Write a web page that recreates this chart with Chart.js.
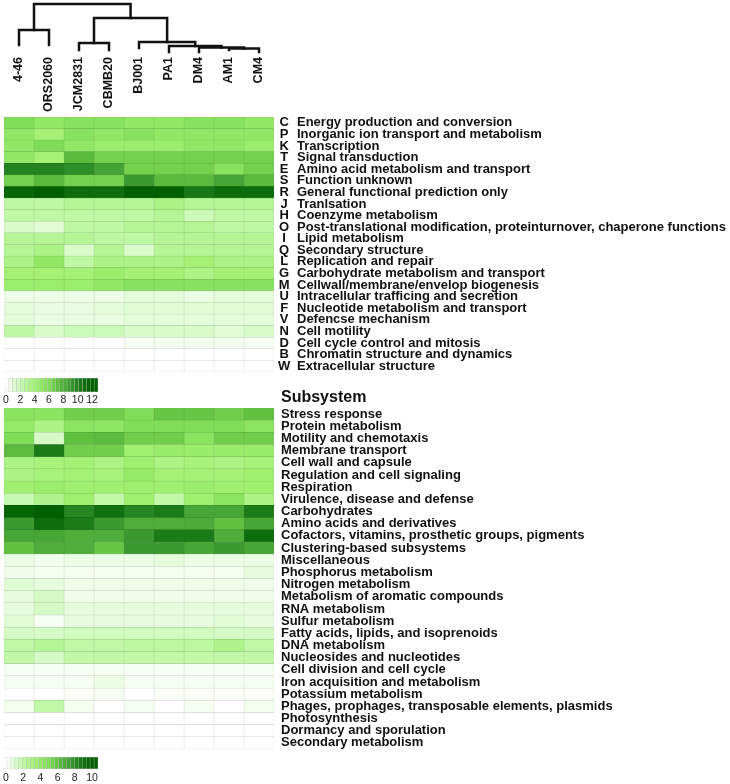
<!DOCTYPE html>
<html>
<head>
<meta charset="utf-8">
<title>COG / subsystem heatmap</title>
<script src="https://cdn.jsdelivr.net/npm/chart.js@4.4.1/dist/chart.umd.min.js"></script>
<style>
  body { margin: 0; background: #fff; }
  #wrap { position: relative; width: 730px; height: 784px; overflow: hidden; font-family: 'Liberation Sans', Arial, sans-serif; }
  #wrap canvas { position: absolute; left: 0; }
  #subTitle { position: absolute; left: 281px; top: 388px; font-size: 16px; font-weight: bold; line-height: 18px; color: #111; }
</style>
</head>
<body>
<div id="wrap">
  <canvas id="dendro" width="280" height="117" style="top:0"></canvas>
  <canvas id="cogChart" width="730" height="267" style="top:111px"></canvas>
  <canvas id="cogKey" width="110" height="34" style="top:372px"></canvas>
  <div id="subTitle">Subsystem</div>
  <canvas id="subChart" width="730" height="353" style="top:402px"></canvas>
  <canvas id="subKey" width="110" height="34" style="top:751px"></canvas>
</div>
<script>
// Strains (columns, in dendrogram order)
const strains = ['4-46', 'ORS2060', 'JCM2831', 'CBMB20', 'BJ001', 'PA1', 'DM4', 'AM1', 'CM4'];

// Dendrogram, hclust style: negative = leaf (1-based), positive = earlier merge (1-based)
const mergeLeft   = [-1, -3, -8, -7, -6, -5, 2, 1];
const mergeRight  = [-2, -4, -9,  3,  4,  5, 6, 7];
const mergeHeight = [22,  9, 3.5, 4.5, 6, 10, 34, 48];
const leafTips    = [7, 7, 2, 2, 4, 0, 0, 2, 0];

// COG categories
const cogLetters = ['C', 'P', 'K', 'T', 'E', 'S', 'R', 'J', 'H', 'O', 'I', 'Q', 'L', 'G', 'M', 'U', 'F', 'V', 'N', 'D', 'B', 'W'];
const cogNames = [
    'Energy production and conversion',
    'Inorganic ion transport and metabolism',
    'Transcription',
    'Signal transduction',
    'Amino acid metabolism and transport',
    'Function unknown',
    'General functional prediction only',
    'Tranlsation',
    'Coenzyme metabolism',
    'Post-translational modification, proteinturnover, chaperone functions',
    'Lipid metabolism',
    'Secondary structure',
    'Replication and repair',
    'Carbohydrate metabolism and transport',
    'Cellwall/membrane/envelop biogenesis',
    'Intracellular trafficing and secretion',
    'Nucleotide metabolism and transport',
    'Defencse mechanism',
    'Cell motility',
    'Cell cycle control and mitosis',
    'Chromatin structure and dynamics',
    'Extracellular structure'
];
const cogValues = [
    [6, 5, 5.5, 5.5, 5, 5, 5.5, 5.5, 5],
    [5, 4, 5.5, 5, 5.5, 5, 5, 5, 5],
    [5, 6, 5, 4.5, 4.5, 4.5, 5, 5, 4.5],
    [5, 4, 7.5, 6.5, 6.5, 6.5, 6.5, 6.5, 6.5],
    [10, 10, 9.5, 8.5, 6.5, 6.5, 6.5, 5.5, 6.5],
    [6.5, 7.5, 6.5, 6.5, 9, 7.5, 7.5, 8.5, 7.5],
    [11.5, 12, 11, 11, 12, 12, 10.5, 11, 11],
    [2.5, 2.5, 3, 3, 3, 3.5, 3, 3, 3],
    [2.5, 2.5, 2.5, 2.5, 2.5, 3, 2, 2.5, 2.5],
    [1.5, 1.2, 2.5, 2.5, 3, 3, 3, 2.5, 2.5],
    [3, 3, 3, 2.5, 2.5, 3, 3, 3, 3],
    [3, 3.5, 1.5, 3, 1.5, 3, 3, 3, 3],
    [3.5, 5, 2.5, 3.5, 3.5, 3.5, 4, 3.5, 3.5],
    [4, 4, 4, 4.5, 4, 4, 3.5, 4, 4],
    [4.5, 4.5, 4.5, 5, 5.5, 5.5, 5.5, 5.5, 5.5],
    [0.7, 0.7, 0.7, 0.7, 1, 1, 0.8, 1, 1],
    [1, 0.8, 0.8, 1, 1.2, 1.2, 1.2, 1.2, 1.2],
    [1, 0.8, 0.8, 0.8, 1, 1, 1, 1, 1],
    [2.5, 1.5, 2, 2, 1.5, 1.5, 1.5, 1.2, 1.5],
    [0, 0, 0, 0, 0.4, 0.5, 0.5, 0.5, 0.4],
    [0, 0, 0, 0, 0, 0, 0, 0, 0],
    [0, 0, 0, 0, 0, 0, 0, 0, 0]
];
const cogMax = 12;
const cogKeyTicks = [0, 2, 4, 6, 8, 10, 12];

// Subsystems
const subNames = [
    'Stress response',
    'Protein metabolism',
    'Motility and chemotaxis',
    'Membrane transport',
    'Cell wall and capsule',
    'Regulation and cell signaling',
    'Respiration',
    'Virulence, disease and defense',
    'Carbohydrates',
    'Amino acids and derivatives',
    'Cofactors, vitamins, prosthetic groups, pigments',
    'Clustering-based subsystems',
    'Miscellaneous',
    'Phosphorus metabolism',
    'Nitrogen metabolism',
    'Metabolism of aromatic compounds',
    'RNA metabolism',
    'Sulfur metabolism',
    'Fatty acids, lipids, and isoprenoids',
    'DNA metabolism',
    'Nucleosides and nucleotides',
    'Cell division and cell cycle',
    'Iron acquisition and metabolism',
    'Potassium metabolism',
    'Phages, prophages, transposable elements, plasmids',
    'Photosynthesis',
    'Dormancy and sporulation',
    'Secondary metabolism'
];
const subValues = [
    [4.5, 4.5, 5.5, 5.5, 5, 5.8, 5.8, 5.5, 6],
    [4, 3, 4.5, 4.3, 5, 5, 5, 5, 4.5],
    [5, 1.3, 6, 6.2, 5.5, 5.5, 4.5, 5.5, 5.5],
    [6.2, 8.6, 5.5, 5.5, 3.5, 3.8, 3.8, 3.8, 3.8],
    [3, 3.2, 3.3, 3, 3.5, 3, 3.2, 3, 3.2],
    [3, 3.2, 3.3, 3.2, 4, 3.3, 3.3, 3.3, 3.5],
    [3.5, 3.8, 3.5, 3.5, 3.5, 3.5, 3.8, 3.5, 3.5],
    [1.8, 2.8, 3.5, 2, 3.5, 2, 3.5, 4.5, 3],
    [9.6, 10, 8.2, 9, 8.2, 8.6, 7, 7, 8.6],
    [7.5, 9.2, 8.6, 7.5, 6.7, 6.7, 6.8, 6, 7],
    [7, 7, 6.7, 6.7, 7.5, 8.6, 8.6, 6.7, 9.2],
    [6, 6.7, 6.7, 5.8, 7.5, 7.5, 7, 7.5, 7],
    [0.6, 0.4, 0.6, 0.6, 0.6, 0.8, 0.6, 0.6, 0.6],
    [0.5, 0.4, 0.4, 0.4, 0.4, 0.4, 0.4, 0.4, 0.8],
    [1, 0.8, 0.5, 0.5, 0.5, 0.5, 0.5, 0.5, 0.5],
    [0.8, 1.3, 0.5, 0.5, 0.5, 0.5, 0.5, 0.5, 0.5],
    [0.8, 1.3, 0.8, 0.8, 0.8, 0.8, 0.8, 0.8, 0.8],
    [1, 0.3, 0.8, 0.8, 0.8, 0.8, 0.8, 1, 0.8],
    [1.3, 1.3, 1.5, 1.5, 1.5, 1.5, 1.5, 1.3, 1.3],
    [2, 2.5, 2, 2, 2.2, 2.2, 2.2, 2.8, 2],
    [2, 1.3, 2, 2, 2, 2, 2, 2, 2],
    [0.3, 0.3, 0.3, 0.3, 0.3, 0.3, 0.3, 0.3, 0.3],
    [0.3, 0.3, 0.3, 0.6, 0.3, 0.3, 0.3, 0.3, 0.3],
    [0, 0, 0.2, 0.3, 0, 0.2, 0.2, 0.2, 0.2],
    [0.4, 2, 0.4, 0, 0.3, 0, 0.3, 0, 0.4],
    [0, 0, 0, 0, 0, 0, 0, 0, 0],
    [0, 0, 0, 0, 0, 0, 0, 0, 0],
    [0, 0, 0, 0, 0, 0, 0, 0, 0]
];
const subMax = 10;
const subKeyTicks = [0, 2, 4, 6, 8, 10];

// Colour ramp white -> light green -> dark green
const rampStops = [0, 0.2, 0.35, 0.5, 0.6, 0.75, 0.9, 1];
const rampColors = ['#ffffff', '#c0f8a8', '#a0f070', '#80dd58', '#60c040', '#3a9a30', '#107010', '#006000'];

Chart.defaults.font.family = "'Liberation Sans', Arial, sans-serif";
Chart.defaults.color = '#111';

function hexToRgb(h) {
    return [parseInt(h.slice(1, 3), 16), parseInt(h.slice(3, 5), 16), parseInt(h.slice(5, 7), 16)];
}

function rampRgb(v, max) {
    const t = Math.max(0, Math.min(1, v / max));
    let i = 0;
    while (i < rampStops.length - 2 && t > rampStops[i + 1]) i++;
    const f = (t - rampStops[i]) / (rampStops[i + 1] - rampStops[i]);
    const a = hexToRgb(rampColors[i]), b = hexToRgb(rampColors[i + 1]);
    return a.map((c, k) => Math.round(c + (b[k] - c) * f));
}

function colorFor(v, max) {
    return 'rgb(' + rampRgb(v, max).join(',') + ')';
}

function edgeFor(v, max) {
    const c = rampRgb(v, max).map(x => Math.round(x * 0.8));
    return 'rgb(' + c.join(',') + ')';
}

const noPad = s => { s.paddingTop = 0; s.paddingBottom = 0; s.paddingLeft = 0; s.paddingRight = 0; };
const colFont = { size: 12.5, weight: 'bold' };
const rowFont = { size: 13, weight: 'bold' };

// Dendrogram
function dendroSegments() {
    const xs = [];
    const childX = c => c < 0 ? (-c - 1) + 0.5 : xs[c - 1];
    const childY = c => c < 0 ? leafTips[-c - 1] : mergeHeight[c - 1];
    return mergeLeft.map((l, i) => {
        const r = mergeRight[i], h = mergeHeight[i];
        const xl = childX(l), xr = childX(r);
        xs[i] = (xl + xr) / 2;
        return [{ x: xl, y: childY(l) }, { x: xl, y: h }, { x: xr, y: h }, { x: xr, y: childY(r) }];
    });
}

new Chart(document.getElementById('dendro'), {
    type: 'scatter',
    data: {
        datasets: dendroSegments().map(seg => ({
            data: seg,
            showLine: true,
            borderColor: '#111',
            borderWidth: 2.5,
            borderJoinStyle: 'miter',
            borderCapStyle: 'square',
            pointRadius: 0,
            clip: false
        }))
    },
    options: {
        responsive: false,
        animation: false,
        events: [],
        layout: { padding: { left: 4, right: 6, top: 4, bottom: 0 } },
        plugins: { legend: { display: false }, tooltip: { enabled: false } },
        scales: {
            x: {
                type: 'linear', min: 0, max: strains.length,
                grid: { display: false, drawTicks: false },
                border: { display: false },
                afterBuildTicks: s => { s.ticks = strains.map((_, i) => ({ value: i + 0.5 })); },
                ticks: {
                    autoSkip: false, minRotation: 90, maxRotation: 90, padding: 5,
                    font: colFont, color: '#111',
                    callback: (v, i) => strains[i]
                },
                afterFit: s => { noPad(s); s.height = 65; }
            },
            y: { display: false, min: 0, max: 48 }
        }
    }
});

// Heatmap builder
function heatDatasets(values, max) {
    return strains.map((name, j) => ({
        label: name,
        data: values.map(() => 1),
        backgroundColor: values.map(r => colorFor(r[j], max)),
        borderColor: values.map(r => edgeFor(r[j], max)),
        borderWidth: 0.5,
        borderSkipped: false,
        barPercentage: 1,
        categoryPercentage: 1
    }));
}

const rowTicks = (padding, extra) => Object.assign({
    autoSkip: false, padding: padding, font: rowFont, color: '#111'
}, extra || {});

new Chart(document.getElementById('cogChart'), {
    type: 'bar',
    data: { labels: cogLetters, datasets: heatDatasets(cogValues, cogMax) },
    options: {
        indexAxis: 'y',
        responsive: false,
        animation: false,
        events: [],
        layout: { padding: { left: 4, right: 0, top: 6, bottom: 6 } },
        plugins: { legend: { display: false }, tooltip: { enabled: false } },
        scales: {
            x: { stacked: true, display: false, min: 0, max: strains.length },
            y: {
                type: 'category', position: 'right', stacked: true, offset: true, weight: 0,
                grid: { display: false, drawTicks: false }, border: { display: false },
                ticks: rowTicks(4, { crossAlign: 'center' }),
                afterFit: s => { noPad(s); s.width = 20; }
            },
            yDesc: {
                type: 'category', labels: cogNames, position: 'right', offset: true, weight: 1,
                grid: { display: false, drawTicks: false }, border: { display: false },
                ticks: rowTicks(3),
                afterFit: s => { noPad(s); s.width = 436; }
            }
        }
    }
});

new Chart(document.getElementById('subChart'), {
    type: 'bar',
    data: { labels: subNames, datasets: heatDatasets(subValues, subMax) },
    options: {
        indexAxis: 'y',
        responsive: false,
        animation: false,
        events: [],
        layout: { padding: { left: 4, right: 0, top: 6, bottom: 6 } },
        plugins: { legend: { display: false }, tooltip: { enabled: false } },
        scales: {
            x: { stacked: true, display: false, min: 0, max: strains.length },
            y: {
                type: 'category', position: 'right', stacked: true, offset: true,
                grid: { display: false, drawTicks: false }, border: { display: false },
                ticks: rowTicks(7),
                afterFit: s => { noPad(s); s.width = 456; }
            }
        }
    }
});

// Colour keys
function makeKey(id, max, ticks, lo, hi, padLeft, axisH, tickPad) {
    const steps = 24;
    const mids = [];
    for (let k = 0; k < steps; k++) mids.push(lo + (k + 0.5) * (hi - lo) / steps);
    new Chart(document.getElementById(id), {
        type: 'bar',
        data: {
            labels: mids.map((_, k) => k),
            datasets: [{
                data: mids.map(() => 1),
                backgroundColor: mids.map(v => colorFor(v, max)),
                borderColor: 'rgba(120,120,120,0.35)',
                borderWidth: 0.5,
                borderSkipped: false,
                barPercentage: 1,
                categoryPercentage: 1
            }]
        },
        options: {
            responsive: false,
            animation: false,
            events: [],
            layout: { padding: { left: padLeft, right: 12, top: 6, bottom: 0 } },
            plugins: { legend: { display: false }, tooltip: { enabled: false } },
            scales: {
                x: { display: false },
                x2: {
                    type: 'linear', position: 'bottom', min: lo, max: hi, offset: false,
                    grid: { display: false, drawTicks: false, offset: false }, border: { display: false },
                    afterBuildTicks: s => { s.ticks = ticks.map(v => ({ value: v })); },
                    ticks: { padding: tickPad, font: { size: 10.5 }, color: '#222', autoSkip: false, maxRotation: 0 },
                    afterFit: s => { noPad(s); s.height = axisH; }
                },
                y: { display: false, min: 0, max: 1 }
            }
        }
    });
}

makeKey('cogKey', cogMax, cogKeyTicks, -0.14, 12.83, 5, 14, 2);
makeKey('subKey', subMax, subKeyTicks, -0.35, 10.7, 3, 16, 3);
</script>
</body>
</html>
